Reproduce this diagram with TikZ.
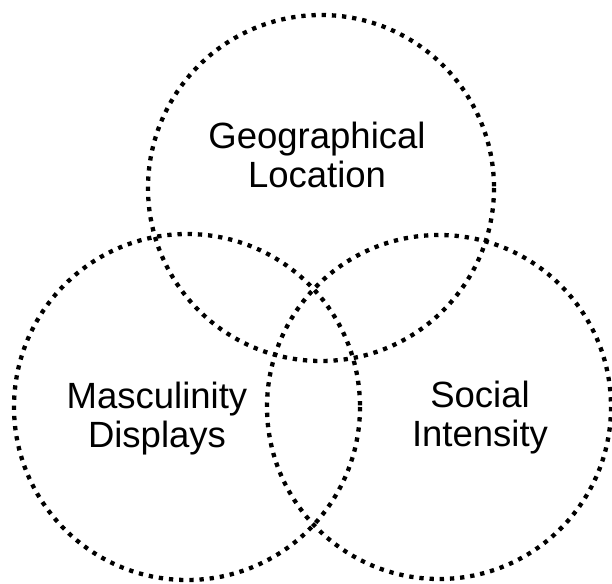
\documentclass[tikz,border=0pt]{standalone}
\usepackage{fontspec}
\setmainfont{Liberation Sans}
\begin{document}
\begin{tikzpicture}[x=1pt,y=-1pt,
  ring/.style={draw=black, line width=4.3pt, dash pattern=on 4.3pt off 5.9pt},
  label/.style={align=center, font=\fontsize{36.5}{39}\selectfont, inner sep=0pt}]
  \useasboundingbox (0,0) rectangle (612,583);
  % the three overlapping circles
  \draw[ring] (321,188) circle[radius=173];
  \draw[ring] (187,407) circle[radius=173];
  \draw[ring] (439,407) circle[radius=172];
  % circle labels
  \node[label] (geo) at (317,155) {Geographical\\Location};
  \node[label] (masc) at (157,419) {Masculinity\\Displays};
  \node[label] (soc) at (480,418) {Social\\Intensity};
\end{tikzpicture}
\end{document}
